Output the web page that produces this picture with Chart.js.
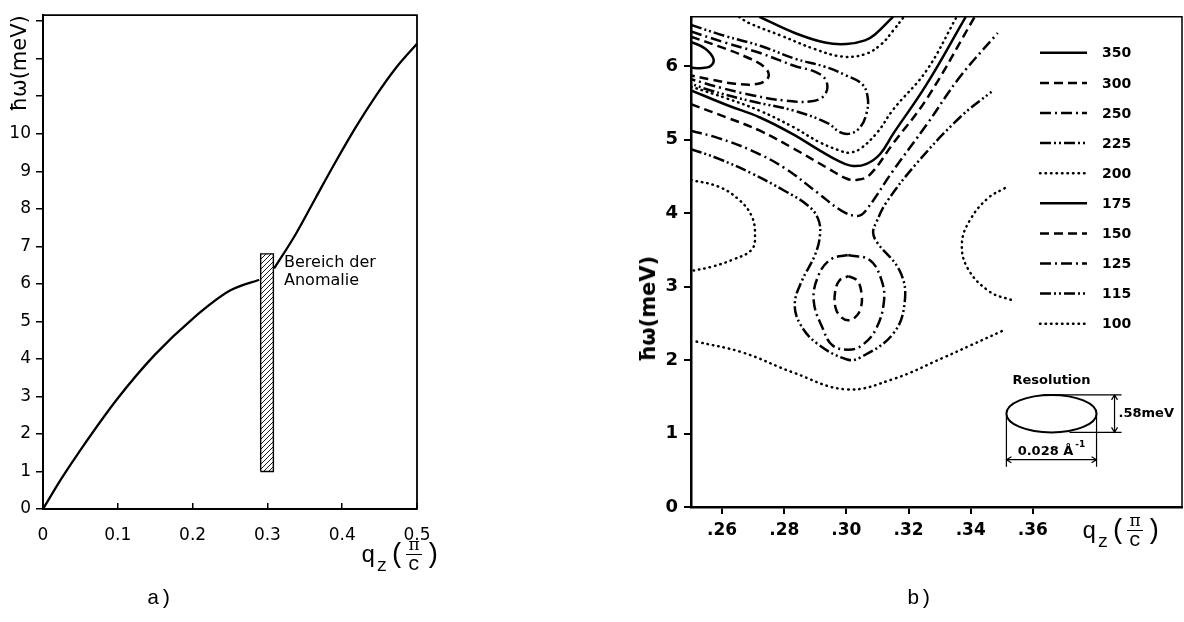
<!DOCTYPE html>
<html>
<head>
<meta charset="utf-8">
<script src="https://cdn.jsdelivr.net/npm/chart.js@4.4.0/dist/chart.umd.min.js"></script>
<style>
  html, body { margin: 0; padding: 0; background: #fff; }
  #wrap { position: relative; width: 1184px; height: 622px; overflow: hidden; }
  .pane { position: absolute; top: 0; height: 622px; }
  .txt { position: absolute; color: #000; white-space: nowrap; }
  .note { font: 16px 'DejaVu Sans'; line-height: 18px; }
  .ylab { font: bold 21px 'DejaVu Sans'; transform: translate(-50%, -50%) rotate(-90deg); }
  .tag { font: 21px 'Liberation Mono'; }
  .qlab { position: absolute; display: flex; align-items: center; font-family: 'Liberation Mono'; color: #000; }
  .qq { font-size: 24px; line-height: 1; }
  .qz { font-size: 18px; line-height: 1; position: relative; top: 10px; margin-left: 1px; }
  .qp { font-size: 27px; line-height: 1; margin-left: 2px; }
  .qf { display: inline-flex; flex-direction: column; align-items: center; line-height: 1; margin: 0 1px; }
  .qn { font-family: 'DejaVu Serif'; font-size: 17px; border-bottom: 1.5px solid #000; padding: 0 2px 1px; }
  .qd { font-size: 20px; }
</style>
</head>
<body>
<div id="wrap">
  <div class="pane" style="left:0;width:470px"><canvas id="chartA"></canvas></div>
  <div class="pane" style="left:600px;width:584px"><canvas id="chartB"></canvas></div>

  <div class="txt note" style="left:284px;top:253px">Bereich der<br>Anomalie</div>
  <div class="txt ylab" style="left:648px;top:309px">ħω(meV)</div>
  <div class="txt tag" style="left:147px;top:587px">a)</div>
  <div class="txt tag" style="left:907px;top:587px">b)</div>

  <div class="qlab" style="left:361px;top:536px">
    <span class="qq">q</span><span class="qz">z</span><span class="qp">(</span><span class="qf"><span class="qn">π</span><span class="qd">c</span></span><span class="qp">)</span>
  </div>
  <div class="qlab" style="left:1082px;top:512px">
    <span class="qq">q</span><span class="qz">z</span><span class="qp">(</span><span class="qf"><span class="qn">π</span><span class="qd">c</span></span><span class="qp">)</span>
  </div>
</div>

<script>
// ---- panel a: dispersion curve ----
const qTicksA = [0, 0.1, 0.2, 0.3, 0.4, 0.5];
const eTicksA = [0, 1, 2, 3, 4, 5, 6, 7, 8, 9, 10, 11, 12, 13];
const dispLow = [[0, 0], [0.025, 0.82], [0.05, 1.57], [0.1, 2.95], [0.15, 4.12], [0.2, 5.07],
                 [0.25, 5.82], [0.289, 6.11]];
const dispHigh = [[0.309, 6.41], [0.338, 7.33], [0.365, 8.31], [0.392, 9.28], [0.418, 10.17],
                  [0.445, 11.01], [0.472, 11.76], [0.5, 12.4]];
const anomalyBar = [[0.291, 1.0], [0.308, 1.0], [0.308, 6.8], [0.291, 6.8], [0.291, 1.0]];

// ---- panel b: intensity contours ----
const qTicksB = [0.26, 0.28, 0.30, 0.32, 0.34, 0.36];
const eTicksB = [0, 1, 2, 3, 4, 5, 6];
const levels = [350, 300, 250, 225, 200, 175, 150, 125, 115, 100];
const levelStyle = { 350: 'solid', 300: 'dashed', 250: 'dashDot', 225: 'dashDotDot', 200: 'dotted',
                     175: 'solid', 150: 'dashed', 125: 'dashDot', 115: 'dashDotDot', 100: 'dotted' };

const c350Loop = [[0.25, 6.33], [0.2545, 6.24], [0.2572, 6.10], [0.2563, 6.00], [0.2530, 5.97], [0.25, 5.98]];
const c300Loop = [[0.25, 6.40], [0.2588, 6.27], [0.2674, 6.13], [0.2738, 5.98], [0.2749, 5.85], [0.2716, 5.76],
                  [0.2641, 5.76], [0.2560, 5.82], [0.25, 5.87]];
const c250Loop = [[0.25, 6.47], [0.2609, 6.32], [0.2727, 6.17], [0.2834, 6.00], [0.2900, 5.92], [0.2935, 5.80],
                  [0.2931, 5.61], [0.2888, 5.52], [0.2802, 5.53], [0.2700, 5.60], [0.2600, 5.70], [0.25, 5.82]];
const c225Loop = [[0.25, 6.56], [0.2609, 6.41], [0.2727, 6.27], [0.2834, 6.10], [0.2931, 5.99], [0.2995, 5.88],
                  [0.3049, 5.76], [0.3068, 5.59], [0.3065, 5.36], [0.3043, 5.16], [0.3011, 5.08], [0.2979, 5.10],
                  [0.2941, 5.22], [0.2834, 5.39], [0.2695, 5.52], [0.2561, 5.67], [0.25, 5.76]];
const c200Top = [[0.2655, 6.67], [0.2684, 6.59], [0.2792, 6.41], [0.2899, 6.23], [0.2985, 6.13], [0.3059, 6.16],
                 [0.3113, 6.30], [0.3150, 6.48], [0.3185, 6.67]];
const c200Ridge = [[0.25, 5.72], [0.2615, 5.56], [0.2722, 5.39], [0.2829, 5.17], [0.2915, 4.96], [0.2985, 4.84],
                   [0.3006, 4.82], [0.3043, 4.87], [0.3100, 5.10], [0.3151, 5.41], [0.3258, 5.94], [0.3355, 6.67]];
const c175Top = [[0.2720, 6.67], [0.2834, 6.45], [0.2931, 6.32], [0.3000, 6.30], [0.3060, 6.35], [0.3092, 6.43],
                 [0.3150, 6.67]];
const c175Ridge = [[0.25, 5.67], [0.2615, 5.47], [0.2722, 5.30], [0.2829, 5.07], [0.2915, 4.85], [0.2979, 4.70],
                   [0.3022, 4.64], [0.3065, 4.67], [0.3108, 4.80], [0.3151, 5.08], [0.3258, 5.75], [0.3384, 6.67]];
const c150Ridge = [[0.25, 5.48], [0.2615, 5.30], [0.2722, 5.12], [0.2829, 4.88], [0.2936, 4.62], [0.3000, 4.47],
                   [0.3033, 4.45], [0.3075, 4.52], [0.3151, 4.95], [0.3258, 5.55], [0.3413, 6.67]];
const c150Core = [[0.3006, 3.14], [0.3035, 3.08], [0.3049, 2.90], [0.3046, 2.70], [0.3028, 2.58], [0.3006, 2.54],
                  [0.2984, 2.58], [0.2966, 2.70], [0.2963, 2.90], [0.2977, 3.08], [0.3006, 3.14]];
const c125Ridge = [[0.25, 5.12], [0.2588, 5.02], [0.2695, 4.85], [0.2802, 4.61], [0.2909, 4.27], [0.2985, 4.03],
                   [0.3035, 3.96], [0.3060, 4.02], [0.3151, 4.58], [0.3258, 5.20], [0.3365, 5.85], [0.3487, 6.45]];
const c125Ring = [[0.3006, 3.43], [0.3075, 3.36], [0.3112, 3.10], [0.3121, 2.80], [0.3095, 2.42], [0.3050, 2.20],
                  [0.3006, 2.14], [0.2955, 2.20], [0.2925, 2.42], [0.2895, 2.80], [0.2910, 3.15], [0.2950, 3.37],
                  [0.3006, 3.43]];
const c115Neck = [[0.25, 4.87], [0.2588, 4.74], [0.2695, 4.54], [0.2802, 4.30], [0.2877, 4.10], [0.2909, 3.92],
                  [0.2915, 3.70], [0.2899, 3.43], [0.2856, 3.07], [0.2834, 2.77], [0.2850, 2.50], [0.2904, 2.23],
                  [0.3000, 2.01], [0.3043, 2.03], [0.3151, 2.36], [0.3188, 2.80], [0.3172, 3.21], [0.3097, 3.61],
                  [0.3086, 3.74], [0.3096, 3.87], [0.3128, 4.14], [0.3225, 4.67], [0.3365, 5.30], [0.3467, 5.65]];
const c100Left = [[0.25, 4.45], [0.2588, 4.36], [0.2652, 4.19], [0.2695, 3.96], [0.2706, 3.70], [0.2695, 3.50],
                  [0.2631, 3.36], [0.2567, 3.27], [0.25, 3.21]];
const c100Right = [[0.3510, 4.34], [0.3455, 4.20], [0.3400, 3.92], [0.3372, 3.60], [0.3390, 3.25], [0.3461, 2.93],
                   [0.3536, 2.81]];
const c100Low = [[0.2518, 2.25], [0.2668, 2.10], [0.2829, 1.83], [0.3000, 1.60], [0.3150, 1.74], [0.3311, 2.03],
                 [0.3400, 2.20], [0.3504, 2.40]];

// resolution ellipse (data units)
const resCenter = [0.366, 1.27];
const resWidth = 0.029;
const resHeight = 0.51;

const contourLines = [
  [350, c350Loop], [300, c300Loop], [250, c250Loop], [225, c225Loop],
  [200, c200Top], [200, c200Ridge], [175, c175Top], [175, c175Ridge],
  [150, c150Ridge], [150, c150Core], [125, c125Ridge], [125, c125Ring],
  [115, c115Neck], [100, c100Left], [100, c100Right], [100, c100Low]
];

const dashes = {
  solid: [], dashed: [9, 5], dashDot: [11, 4, 2, 4], dashDotDot: [11, 3, 2, 3, 2, 3], dotted: [0.5, 5]
};

function pts(arr) {
  return arr.map(p => ({ x: p[0], y: p[1] }));
}

function lineSet(arr, style, width) {
  return {
    data: pts(arr), showLine: true, pointRadius: 0, borderColor: '#000', borderWidth: width,
    borderDash: dashes[style], borderCapStyle: style === 'dotted' ? 'round' : 'butt',
    tension: 0.4, fill: false
  };
}

function hatchPattern(ctx) {
  let c = document.createElement('canvas');
  c.width = 5; c.height = 5;
  let g = c.getContext('2d');
  g.strokeStyle = '#000';
  g.lineWidth = 0.9;
  g.beginPath();
  g.moveTo(0, 5); g.lineTo(5, 0);
  g.moveTo(-1, 1); g.lineTo(1, -1);
  g.moveTo(4, 6); g.lineTo(6, 4);
  g.stroke();
  return ctx.createPattern(c, 'repeat');
}

const frame = {
  id: 'frame',
  afterDraw(chart, args, opts) {
    let a = chart.chartArea, c = chart.ctx;
    c.save();
    c.strokeStyle = '#000';
    c.lineWidth = opts.width;
    c.beginPath();
    c.moveTo(a.left, a.top);
    c.lineTo(a.right, a.top);
    c.lineTo(a.right, a.bottom);
    c.stroke();
    c.restore();
  }
};

const contourLegend = {
  id: 'contourLegend',
  afterDraw(chart) {
    let a = chart.chartArea, c = chart.ctx;
    c.save();
    c.strokeStyle = '#000';
    c.fillStyle = '#000';
    c.lineWidth = 2.5;
    c.font = 'bold 14px "DejaVu Sans"';
    c.textBaseline = 'middle';
    levels.forEach((lv, i) => {
      let y = a.top + 36 + i * 30.1;
      let x0 = a.left + 349;
      let st = levelStyle[lv];
      c.setLineDash(dashes[st]);
      c.lineCap = st === 'dotted' ? 'round' : 'butt';
      c.beginPath();
      c.moveTo(x0, y);
      c.lineTo(x0 + 47, y);
      c.stroke();
      c.fillText(String(lv), x0 + 62, y + 1);
    });
    c.restore();
  }
};

const resolution = {
  id: 'resolution',
  afterDraw(chart) {
    let xs = chart.scales.x, ys = chart.scales.y, c = chart.ctx;
    let cx = xs.getPixelForValue(resCenter[0]);
    let cy = ys.getPixelForValue(resCenter[1]);
    let rx = xs.getPixelForValue(resCenter[0] + resWidth / 2) - cx;
    let ry = cy - ys.getPixelForValue(resCenter[1] + resHeight / 2);
    c.save();
    c.strokeStyle = '#000';
    c.fillStyle = '#000';
    c.lineWidth = 2;
    c.beginPath();
    c.ellipse(cx, cy, rx, ry, 0, 0, Math.PI * 2);
    c.stroke();
    c.lineWidth = 1.2;
    c.beginPath();
    // width dimension
    c.moveTo(cx - rx, cy); c.lineTo(cx - rx, cy + 53);
    c.moveTo(cx + rx, cy); c.lineTo(cx + rx, cy + 53);
    c.moveTo(cx - rx, cy + 46); c.lineTo(cx + rx, cy + 46);
    c.moveTo(cx - rx + 5, cy + 43); c.lineTo(cx - rx, cy + 46); c.lineTo(cx - rx + 5, cy + 49);
    c.moveTo(cx + rx - 5, cy + 43); c.lineTo(cx + rx, cy + 46); c.lineTo(cx + rx - 5, cy + 49);
    // height dimension
    c.moveTo(cx - 8, cy - ry); c.lineTo(cx + rx + 25, cy - ry);
    c.moveTo(cx + 18, cy + ry); c.lineTo(cx + rx + 25, cy + ry);
    c.moveTo(cx + rx + 18, cy - ry); c.lineTo(cx + rx + 18, cy + ry);
    c.moveTo(cx + rx + 15, cy - ry + 5); c.lineTo(cx + rx + 18, cy - ry); c.lineTo(cx + rx + 21, cy - ry + 5);
    c.moveTo(cx + rx + 15, cy + ry - 5); c.lineTo(cx + rx + 18, cy + ry); c.lineTo(cx + rx + 21, cy + ry - 5);
    c.stroke();
    c.font = 'bold 13px "DejaVu Sans"';
    c.textAlign = 'center';
    c.textBaseline = 'alphabetic';
    c.fillText('Resolution', cx, cy - ry - 11);
    c.textAlign = 'left';
    let t = '0.028 Å';
    let w = c.measureText(t).width;
    c.font = 'bold 9px "DejaVu Sans"';
    let w2 = c.measureText('-1').width;
    let sx = cx - (w + w2 + 2) / 2;
    c.font = 'bold 13px "DejaVu Sans"';
    c.fillText(t, sx, cy + 41);
    c.font = 'bold 9px "DejaVu Sans"';
    c.fillText('-1', sx + w + 2, cy + 33);
    c.font = 'bold 13px "DejaVu Sans"';
    c.textBaseline = 'middle';
    c.fillText('.58meV', cx + rx + 22, cy);
    c.restore();
  }
};

// ---- chart a ----
let ctxA = document.getElementById('chartA').getContext('2d');
let lowSet = lineSet(dispLow, 'solid', 2.3);
let highSet = lineSet(dispHigh, 'solid', 2.3);
lowSet.cubicInterpolationMode = 'monotone';
highSet.cubicInterpolationMode = 'monotone';
let chartA = new Chart(ctxA, {
  type: 'scatter',
  data: {
    datasets: [
      lowSet,
      highSet,
      {
        data: pts(anomalyBar), showLine: true, pointRadius: 0, borderColor: '#000', borderWidth: 1.4,
        tension: 0, fill: 'shape', backgroundColor: hatchPattern(ctxA)
      }
    ]
  },
  options: {
    responsive: true,
    maintainAspectRatio: false,
    animation: false,
    layout: { padding: { top: 14, right: 53, left: 0, bottom: 0 } },
    plugins: { legend: { display: false }, tooltip: { enabled: false }, frame: { width: 1.8 } },
    scales: {
      x: {
        type: 'linear', min: 0, max: 0.5,
        afterBuildTicks: s => { s.ticks = qTicksA.map(v => ({ value: v })); },
        afterFit: s => { s.height = 113; },
        border: { display: true, color: '#000', width: 2 },
        grid: { drawOnChartArea: false, color: '#000', lineWidth: 1.5, tickLength: -6 },
        ticks: {
          color: '#000', font: { family: 'DejaVu Sans', size: 17 }, padding: 22, maxRotation: 0, autoSkip: false,
          callback: v => v === 0 ? '0' : v.toFixed(1)
        }
      },
      y: {
        type: 'linear', min: 0, max: 13.16,
        afterBuildTicks: s => { s.ticks = eTicksA.map(v => ({ value: v })); },
        afterFit: s => { s.width = 43; },
        border: { display: true, color: '#000', width: 2 },
        grid: { drawOnChartArea: false, color: '#000', lineWidth: 1.5, tickLength: 7 },
        ticks: {
          color: '#000', font: { family: 'DejaVu Sans', size: 17 }, padding: 5, autoSkip: false,
          callback: v => v <= 10 ? String(v) : ''
        },
        title: {
          display: true, text: 'ħω(meV)', align: 'end', color: '#000',
          font: { family: 'DejaVu Sans', size: 21 }, padding: { top: 8, bottom: 0 }
        }
      }
    }
  },
  plugins: [frame]
});

// ---- chart b ----
let ctxB = document.getElementById('chartB').getContext('2d');
let chartB = new Chart(ctxB, {
  type: 'scatter',
  data: {
    datasets: contourLines.map(cl => lineSet(cl[1], levelStyle[cl[0]], 2.5))
  },
  options: {
    responsive: true,
    maintainAspectRatio: false,
    animation: false,
    layout: { padding: { top: 7, right: 2, left: 0, bottom: 0 } },
    plugins: { legend: { display: false }, tooltip: { enabled: false }, frame: { width: 1.5 } },
    scales: {
      x: {
        type: 'linear', min: 0.25, max: 0.408,
        afterBuildTicks: s => { s.ticks = qTicksB.map(v => ({ value: v })); },
        afterFit: s => { s.height = 115; },
        border: { display: true, color: '#000', width: 2.5 },
        grid: { drawOnChartArea: false, color: '#000', lineWidth: 2, tickLength: 7 },
        ticks: {
          color: '#000', font: { family: 'DejaVu Sans', size: 17, weight: 'bold' }, padding: 6, maxRotation: 0,
          autoSkip: false, callback: v => '.' + Math.round(v * 100)
        }
      },
      y: {
        type: 'linear', min: 0, max: 6.67,
        afterBuildTicks: s => { s.ticks = eTicksB.map(v => ({ value: v })); },
        afterFit: s => { s.width = 91; },
        border: { display: true, color: '#000', width: 2.5 },
        grid: { drawOnChartArea: false, color: '#000', lineWidth: 2, tickLength: 7 },
        ticks: {
          color: '#000', font: { family: 'DejaVu Sans', size: 18, weight: 'bold' }, padding: 6, autoSkip: false,
          callback: v => String(v)
        }
      }
    }
  },
  plugins: [frame, contourLegend, resolution]
});
</script>
</body>
</html>
